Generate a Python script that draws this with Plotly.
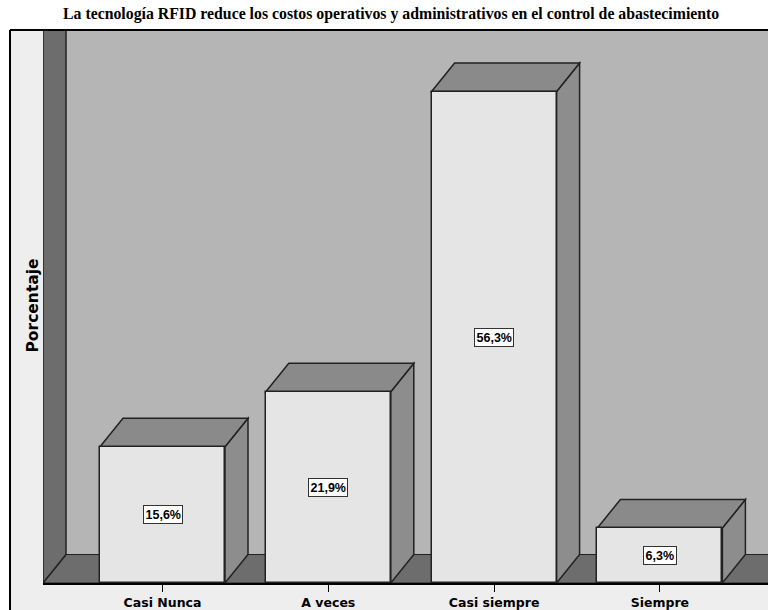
import plotly.graph_objects as go

categories = ["Casi Nunca", "A veces", "Casi siempre", "Siempre"]
values = [15.6, 21.9, 56.3, 6.3]
value_labels = ["15,6%", "21,9%", "56,3%", "6,3%"]
title_text = "La tecnología RFID reduce los costos operativos y administrativos en el control de abastecimiento"
y_title = "Porcentaje"

# layout constants (pixels)
W, H = 768, 610
ML, MT, MB = 43, 31, 27
PLOT_W = W - ML
PLOT_H = H - MT - MB
PX_PER_CAT = 165.8
FIRST_CAT_PX = 119.5
PX_PER_UNIT = 8.73
DEPTH_X_PX, DEPTH_Y_PX = 23, 28.5

x0 = -FIRST_CAT_PX / PX_PER_CAT
x1 = x0 + PLOT_W / PX_PER_CAT
ytop = PLOT_H / PX_PER_UNIT
dx = DEPTH_X_PX / PX_PER_CAT
dy = DEPTH_Y_PX / PX_PER_UNIT
bw = 125 / PX_PER_CAT

BACK = "#b5b5b5"
WALL = "#6d6d6d"
FRONT = "#e5e5e5"
TOP = "#8a8a8a"
SIDE = "#8d8d8d"
EDGE = "#222222"
LIGHT = "#eeeeee"

xs = list(range(len(categories)))

fig = go.Figure()
fig.add_trace(go.Bar(
    x=xs, y=values, width=bw,
    marker=dict(color=FRONT, line=dict(color=EDGE, width=1.5)),
    hoverinfo="skip", showlegend=False,
))

def py(pix):
    return (H - MB - pix) / PLOT_H

def px(pix):
    return (pix - ML) / PLOT_W

shapes = []
# light frame strips around the plot area (paper coords)
shapes.append(dict(type="rect", xref="paper", yref="paper", layer="below",
                   x0=px(10), x1=0, y0=-0.2, y1=py(30),
                   fillcolor=LIGHT, line=dict(width=0)))
shapes.append(dict(type="rect", xref="paper", yref="paper", layer="below",
                   x0=px(10), x1=1.2, y0=-0.2, y1=0,
                   fillcolor=LIGHT, line=dict(width=0)))
shapes.append(dict(type="line", xref="paper", yref="paper", layer="above",
                   x0=px(10), x1=px(10), y0=-0.2, y1=py(30),
                   line=dict(color="black", width=2)))
shapes.append(dict(type="line", xref="paper", yref="paper", layer="above",
                   x0=px(10), x1=1.2, y0=py(30), y1=py(30),
                   line=dict(color="black", width=2)))

def path(pts):
    return "M " + " L ".join(f"{a},{b}" for a, b in pts) + " Z"

# floor
shapes.append(dict(type="path", xref="x", yref="y", layer="below",
                   path=path([(x0, 0), (x0 + dx, dy), (x1 + 1, dy), (x1 + 1, 0)]),
                   fillcolor=WALL, line=dict(color=EDGE, width=1.2)))
# left wall
shapes.append(dict(type="path", xref="x", yref="y", layer="below",
                   path=path([(x0, 0), (x0, ytop + 5), (x0 + dx, ytop + 5), (x0 + dx, dy)]),
                   fillcolor=WALL, line=dict(color=EDGE, width=1.5)))

for xi, v in zip(xs, values):
    xl, xr = xi - bw / 2, xi + bw / 2
    shapes.append(dict(type="path", xref="x", yref="y", layer="below",
                       path=path([(xr, 0), (xr, v), (xr + dx, v + dy), (xr + dx, dy)]),
                       fillcolor=SIDE, line=dict(color=EDGE, width=1.5)))
    shapes.append(dict(type="path", xref="x", yref="y", layer="below",
                       path=path([(xl, v), (xl + dx, v + dy), (xr + dx, v + dy), (xr, v)]),
                       fillcolor=TOP, line=dict(color=EDGE, width=1.5)))

annotations = []
for xi, v, lab in zip(xs, values, value_labels):
    annotations.append(dict(x=xi, y=v / 2, xref="x", yref="y", text=f"<b>{lab}</b>",
                            showarrow=False, bgcolor="white", bordercolor="#333333",
                            borderwidth=1, borderpad=1.5,
                            font=dict(family="Liberation Sans, Arial", size=12.5, color="black")))
annotations.append(dict(x=px(21.5), y=py(306), xref="paper", yref="paper",
                        text=f"<b>{y_title}</b>", textangle=-90, showarrow=False,
                        font=dict(family="DejaVu Sans", size=15.5, color="black")))
annotations.append(dict(x=px(391), y=py(14), xref="paper", yref="paper",
                        text=f"<b>{title_text}</b>", showarrow=False, xanchor="center", yanchor="middle",
                        font=dict(family="Liberation Serif, Times New Roman", size=15.8, color="black")))

fig.update_layout(
    width=W, height=H,
    margin=dict(l=ML, r=0, t=MT, b=MB, pad=0),
    paper_bgcolor="white", plot_bgcolor=BACK,
    shapes=shapes, annotations=annotations,
    showlegend=False, bargap=0,
    xaxis=dict(range=[x0, x1], tickmode="array", tickvals=xs,
               ticktext=[f"<b>{c}</b>" for c in categories],
               showline=True, linecolor="black", linewidth=2,
               ticks="outside", ticklen=7, tickwidth=1, tickcolor="black",
               showgrid=False, zeroline=False,
               tickfont=dict(family="DejaVu Sans", size=12.5, color="black")),
    yaxis=dict(range=[0, ytop], visible=False, showgrid=False, zeroline=False),
)

fig.write_html("out.html")
